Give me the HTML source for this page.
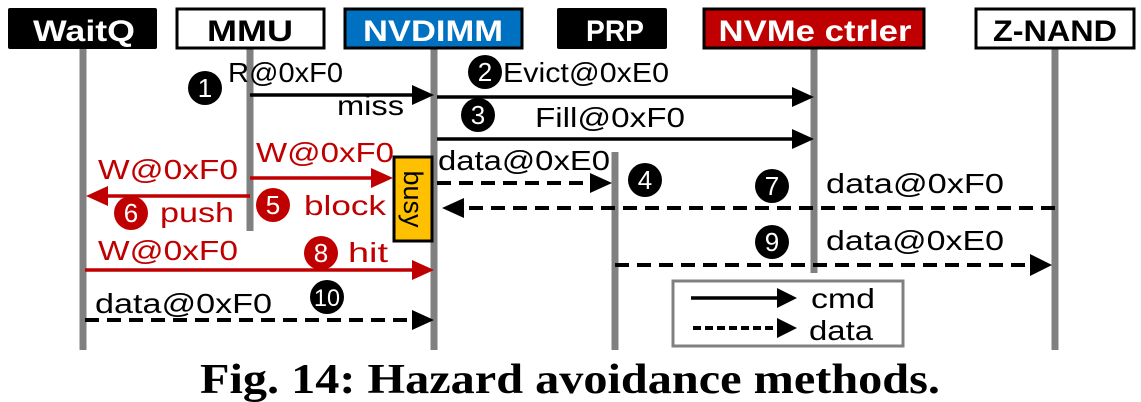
<!DOCTYPE html>
<html><head><meta charset="utf-8"><style>
html,body{margin:0;padding:0;background:#fff;}
svg{display:block;}
</style></head><body>
<svg width="1141" height="402" viewBox="0 0 1141 402" xmlns="http://www.w3.org/2000/svg" style="font-family:'Liberation Sans',sans-serif">
<!-- lifelines -->
<g stroke="#808080" stroke-width="7">
<line x1="83" y1="49" x2="83" y2="350"/>
<line x1="250" y1="49" x2="250" y2="231"/>
<line x1="434" y1="49" x2="434" y2="350"/>
<line x1="615" y1="152" x2="615" y2="350"/>
<line x1="814" y1="49" x2="814" y2="273"/>
<line x1="1055" y1="49" x2="1055" y2="350"/>
</g>
<!-- headers -->
<g font-weight="bold" font-size="30" text-anchor="middle">
<rect x="8" y="8" width="149" height="41" fill="#000" rx="2"/>
<text x="84" y="41" fill="#fff" textLength="102" lengthAdjust="spacingAndGlyphs">WaitQ</text>
<rect x="177" y="9" width="147" height="39" fill="#fff" stroke="#000" stroke-width="3"/>
<text x="250" y="41" fill="#000" textLength="86" lengthAdjust="spacingAndGlyphs">MMU</text>
<rect x="345" y="9" width="177" height="39" fill="#0070c0" stroke="#000" stroke-width="3"/>
<text x="433" y="41" fill="#fff" textLength="140" lengthAdjust="spacingAndGlyphs">NVDIMM</text>
<rect x="557" y="8" width="110" height="41" fill="#000" rx="2"/>
<text x="615" y="41" fill="#fff" textLength="58" lengthAdjust="spacingAndGlyphs">PRP</text>
<rect x="704" y="9" width="220" height="39" fill="#c00000" stroke="#000" stroke-width="3"/>
<text x="815" y="41" fill="#fff" textLength="193" lengthAdjust="spacingAndGlyphs">NVMe ctrler</text>
<rect x="976" y="9" width="158" height="39" fill="#fff" stroke="#000" stroke-width="3"/>
<text x="1055" y="41" fill="#000" textLength="124" lengthAdjust="spacingAndGlyphs">Z-NAND</text>
</g>
<!-- arrows black solid -->
<g stroke="#000" stroke-width="3.5" fill="none">
<line x1="250" y1="95" x2="420" y2="95"/>
<line x1="437" y1="97" x2="800" y2="97"/>
<line x1="437" y1="139" x2="800" y2="139"/>
</g>
<g fill="#000">
<path d="M434,95 L412,85 L412,105 z"/>
<path d="M814,97 L792,87 L792,107 z"/>
<path d="M814,139 L792,129 L792,149 z"/>
</g>
<!-- dashed -->
<g stroke="#000" stroke-width="4" fill="none" stroke-dasharray="14,8">
<line x1="437" y1="183" x2="594" y2="183"/>
<line x1="1055" y1="208" x2="462" y2="208"/>
<line x1="615" y1="265" x2="1030" y2="265"/>
<line x1="85" y1="320" x2="416" y2="320"/>
</g>
<g fill="#000">
<path d="M612,183 L590,173 L590,193 z"/>
<path d="M442,208 L464,198 L464,218 z"/>
<path d="M1052,265 L1030,254 L1030,276 z"/>
<path d="M434,320 L412,310 L412,330 z"/>
</g>
<!-- red arrows -->
<g stroke="#c00000" stroke-width="3.5" fill="none">
<line x1="250" y1="178" x2="378" y2="178"/>
<line x1="250" y1="196" x2="100" y2="196"/>
<line x1="85" y1="270" x2="416" y2="270"/>
</g>
<g fill="#c00000">
<path d="M393,178 L371,168 L371,188 z"/>
<path d="M86,196 L108,186 L108,206 z"/>
<path d="M434,270 L412,260 L412,280 z"/>
</g>
<!-- busy box -->
<rect x="394" y="157" width="38" height="84" fill="#ffc000" stroke="#000" stroke-width="3"/>
<text transform="translate(404,199) rotate(90)" font-size="27" text-anchor="middle" fill="#000">busy</text>
<!-- circles -->
<g font-size="26" text-anchor="middle" fill="#fff">
<circle cx="205" cy="88" r="17" fill="#000"/><text x="205" y="97">1</text>
<circle cx="485" cy="72" r="17" fill="#000"/><text x="485" y="81">2</text>
<circle cx="478" cy="115" r="17" fill="#000"/><text x="478" y="124">3</text>
<circle cx="645" cy="180" r="17" fill="#000"/><text x="645" y="189">4</text>
<circle cx="273" cy="205" r="17" fill="#c00000"/><text x="273" y="214">5</text>
<circle cx="131" cy="213" r="17" fill="#c00000"/><text x="131" y="222">6</text>
<circle cx="772" cy="186" r="17" fill="#000"/><text x="772" y="195">7</text>
<circle cx="321" cy="253" r="17" fill="#c00000"/><text x="321" y="262">8</text>
<circle cx="772" cy="242" r="17" fill="#000"/><text x="772" y="251">9</text>
<circle cx="327" cy="297" r="17" fill="#000"/><text x="327" y="306" font-size="24" textLength="26" lengthAdjust="spacingAndGlyphs">10</text>
</g>
<!-- labels -->
<g font-size="28" fill="#000">
<text x="228" y="82" textLength="115" lengthAdjust="spacingAndGlyphs">R@0xF0</text>
<text x="337" y="115" textLength="67" lengthAdjust="spacingAndGlyphs">miss</text>
<text x="503" y="82" textLength="166" lengthAdjust="spacingAndGlyphs">Evict@0xE0</text>
<text x="535" y="127" textLength="150" lengthAdjust="spacingAndGlyphs">Fill@0xF0</text>
<text x="438" y="170" textLength="172" lengthAdjust="spacingAndGlyphs">data@0xE0</text>
<text x="826" y="193" textLength="178" lengthAdjust="spacingAndGlyphs">data@0xF0</text>
<text x="826" y="250" textLength="178" lengthAdjust="spacingAndGlyphs">data@0xE0</text>
<text x="95" y="313" textLength="177" lengthAdjust="spacingAndGlyphs">data@0xF0</text>
</g>
<g font-size="28" fill="#c00000">
<text x="256" y="162" textLength="138" lengthAdjust="spacingAndGlyphs">W@0xF0</text>
<text x="98" y="179" textLength="140" lengthAdjust="spacingAndGlyphs">W@0xF0</text>
<text x="160" y="222" textLength="74" lengthAdjust="spacingAndGlyphs">push</text>
<text x="304" y="215" textLength="82" lengthAdjust="spacingAndGlyphs">block</text>
<text x="98" y="260" textLength="140" lengthAdjust="spacingAndGlyphs">W@0xF0</text>
<text x="348" y="262" textLength="40" lengthAdjust="spacingAndGlyphs">hit</text>
</g>
<!-- legend -->
<rect x="673" y="281" width="230" height="65" fill="#fff" stroke="#808080" stroke-width="3"/>
<line x1="691" y1="298" x2="780" y2="298" stroke="#000" stroke-width="3.5"/>
<path d="M797,298 L777,288 L777,308 z" fill="#000"/>
<line x1="693" y1="328" x2="780" y2="328" stroke="#000" stroke-width="4" stroke-dasharray="8,4"/>
<path d="M797,328 L777,318 L777,338 z" fill="#000"/>
<text x="811" y="308" font-size="28" textLength="64" lengthAdjust="spacingAndGlyphs">cmd</text>
<text x="809" y="340" font-size="28" textLength="64" lengthAdjust="spacingAndGlyphs">data</text>
<!-- caption -->
<text x="570" y="393" style="font-family:'Liberation Serif',serif" font-weight="bold" font-size="42" text-anchor="middle" textLength="740" lengthAdjust="spacingAndGlyphs">Fig. 14: Hazard avoidance methods.</text>
</svg>
</body></html>
